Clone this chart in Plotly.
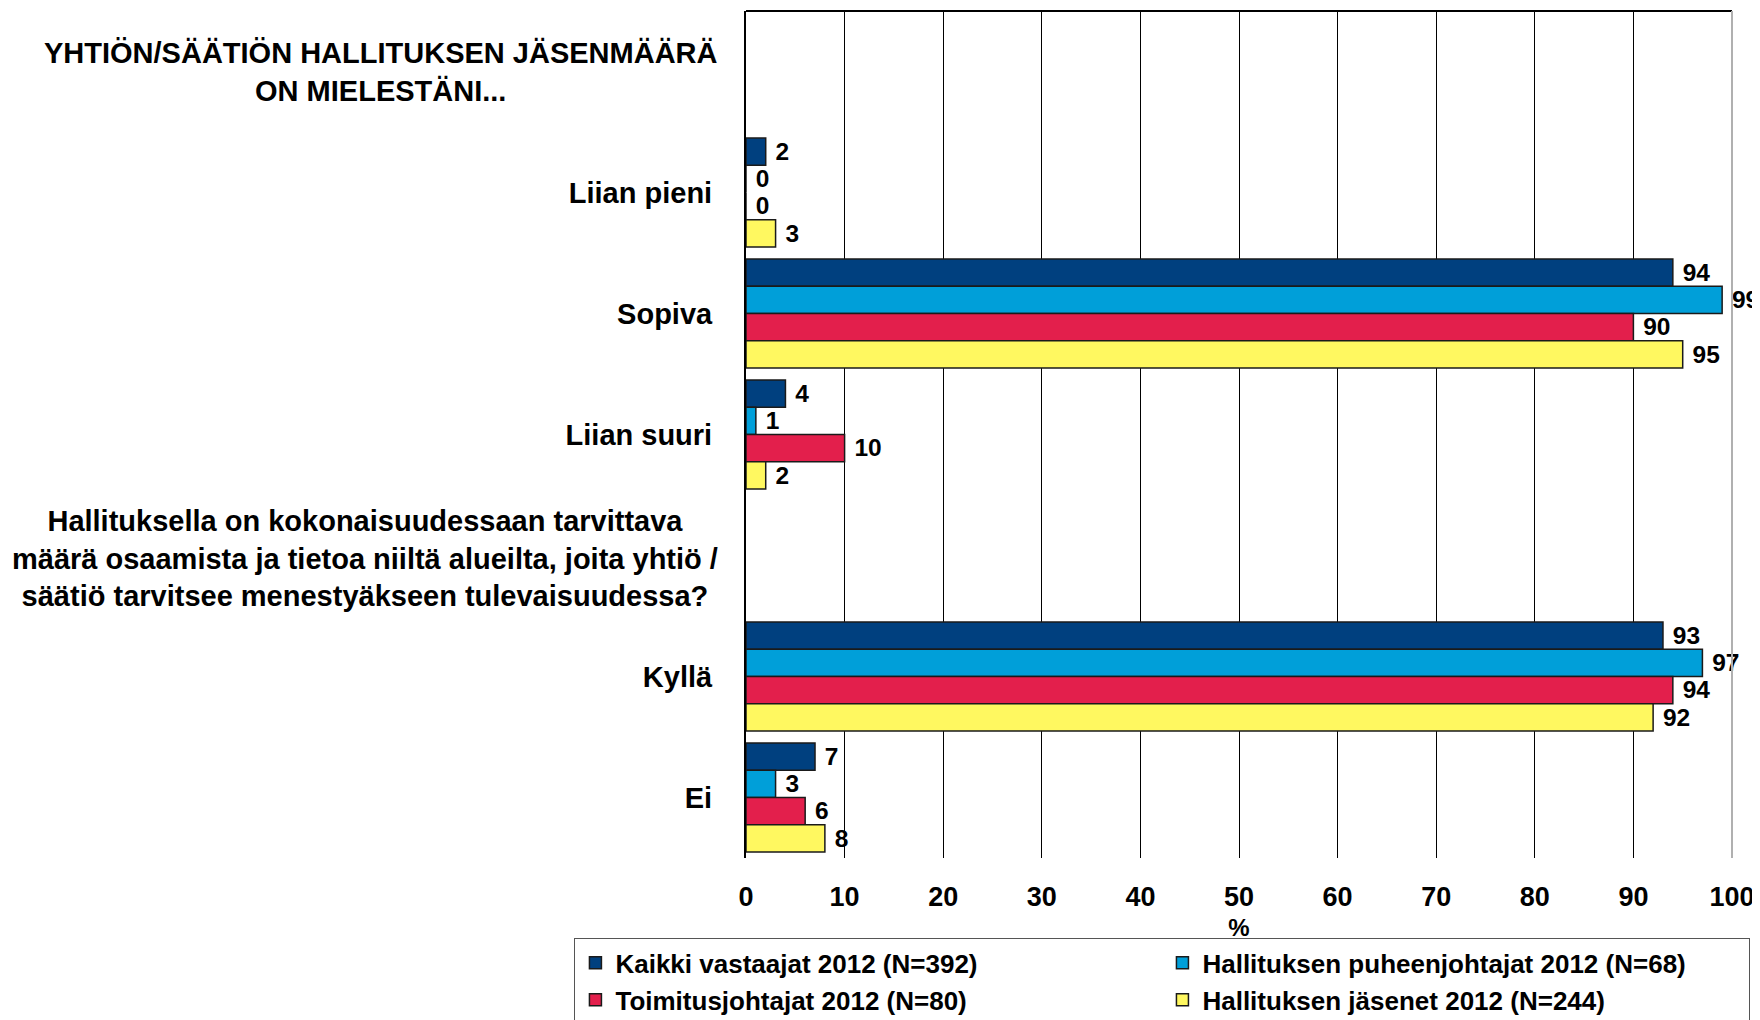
import plotly.graph_objects as go

# categories top to bottom; header rows are empty placeholders
categories = ["h1", "Liian pieni", "Sopiva", "Liian suuri", "h2", "Kyllä", "Ei"]
tick_text = ["", "Liian pieni", "Sopiva", "Liian suuri", "", "Kyllä", "Ei"]

header1 = "YHTIÖN/SÄÄTIÖN HALLITUKSEN JÄSENMÄÄRÄ<br>ON MIELESTÄNI..."
header2 = ("Hallituksella on kokonaisuudessaan tarvittava<br>"
           "määrä osaamista ja tietoa niiltä alueilta, joita yhtiö /<br>"
           "säätiö tarvitsee menestyäkseen tulevaisuudessa?")

series_names = [
    "Kaikki vastaajat 2012 (N=392)",
    "Hallituksen puheenjohtajat 2012 (N=68)",
    "Toimitusjohtajat 2012 (N=80)",
    "Hallituksen jäsenet 2012 (N=244)",
]
kaikki = [None, 2, 94, 4, None, 93, 7]
puheenjohtajat = [None, 0, 99, 1, None, 97, 3]
toimitusjohtajat = [None, 0, 90, 10, None, 94, 6]
jasenet = [None, 3, 95, 2, None, 92, 8]
colors = ["#00407F", "#009FD9", "#E31F4C", "#FFF860"]

FONT = "Liberation Sans, Arial, sans-serif"
SIZE = 29

fig = go.Figure()
for name, vals, col in zip(series_names, [kaikki, puheenjohtajat, toimitusjohtajat, jasenet], colors):
    fig.add_trace(go.Bar(
        y=categories, x=vals, name=f"<b>{name}</b>", orientation="h",
        marker=dict(color=col, line=dict(color="#1a1a1a", width=1.5)),
        text=[("" if v is None else f"\u00a0<b>{v}</b>") for v in vals],
        textposition="outside", cliponaxis=False,
        textfont=dict(family=FONT, size=27, color="black"),
    ))

# header texts beside the plot
for cat, txt, dy in [("h1", header1, 0), ("h2", header2, -3)]:
    fig.add_annotation(
        xref="paper", yref="y", x=-0.026, y=cat, text=f"<b>{txt}</b>",
        showarrow=False, xanchor="right", align="center", yshift=dy,
        font=dict(family=FONT, size=SIZE, color="black"),
    )

# plot frame: black top, grey right edge
fig.add_shape(type="line", xref="paper", yref="paper", x0=0, x1=1, y0=1, y1=1,
              line=dict(color="black", width=2))
fig.add_shape(type="line", xref="paper", yref="paper", x0=1, x1=1, y0=0, y1=1,
              line=dict(color="#b0b0b0", width=2))

fig.update_layout(
    width=1760, height=1020,
    margin=dict(l=738, r=36, t=3, b=170, autoexpand=False),
    plot_bgcolor="white", paper_bgcolor="white",
    barmode="group", bargap=0.1, bargroupgap=0,
    font=dict(family=FONT, size=SIZE, color="black"),
    legend=dict(
        orientation="h", x=-0.174, y=-0.095, xanchor="left", yanchor="top",
        entrywidth=542, entrywidthmode="pixels",
        bordercolor="#555555", borderwidth=1,
        font=dict(family=FONT, size=26, color="black"),
        traceorder="normal", itemwidth=30, tracegroupgap=0,
    ),
)
fig.update_xaxes(
    range=[0, 100], dtick=10, showgrid=True, gridcolor="black", gridwidth=1,
    zeroline=False, showline=False, ticks="",
    tickfont=dict(family=FONT, size=27), ticklabelstandoff=20,
    title=dict(text="<b>%</b>", standoff=8, font=dict(family=FONT, size=24)),
    tickprefix="<b>", ticksuffix="</b>",
)
fig.update_yaxes(
    autorange="reversed", tickvals=categories, ticktext=[f"<b>{t}</b>" for t in tick_text],
    showline=True, linecolor="black", linewidth=2, ticks="", showgrid=False,
    tickfont=dict(family=FONT, size=SIZE), ticklabelstandoff=26,
)

fig.write_html("out.html")
